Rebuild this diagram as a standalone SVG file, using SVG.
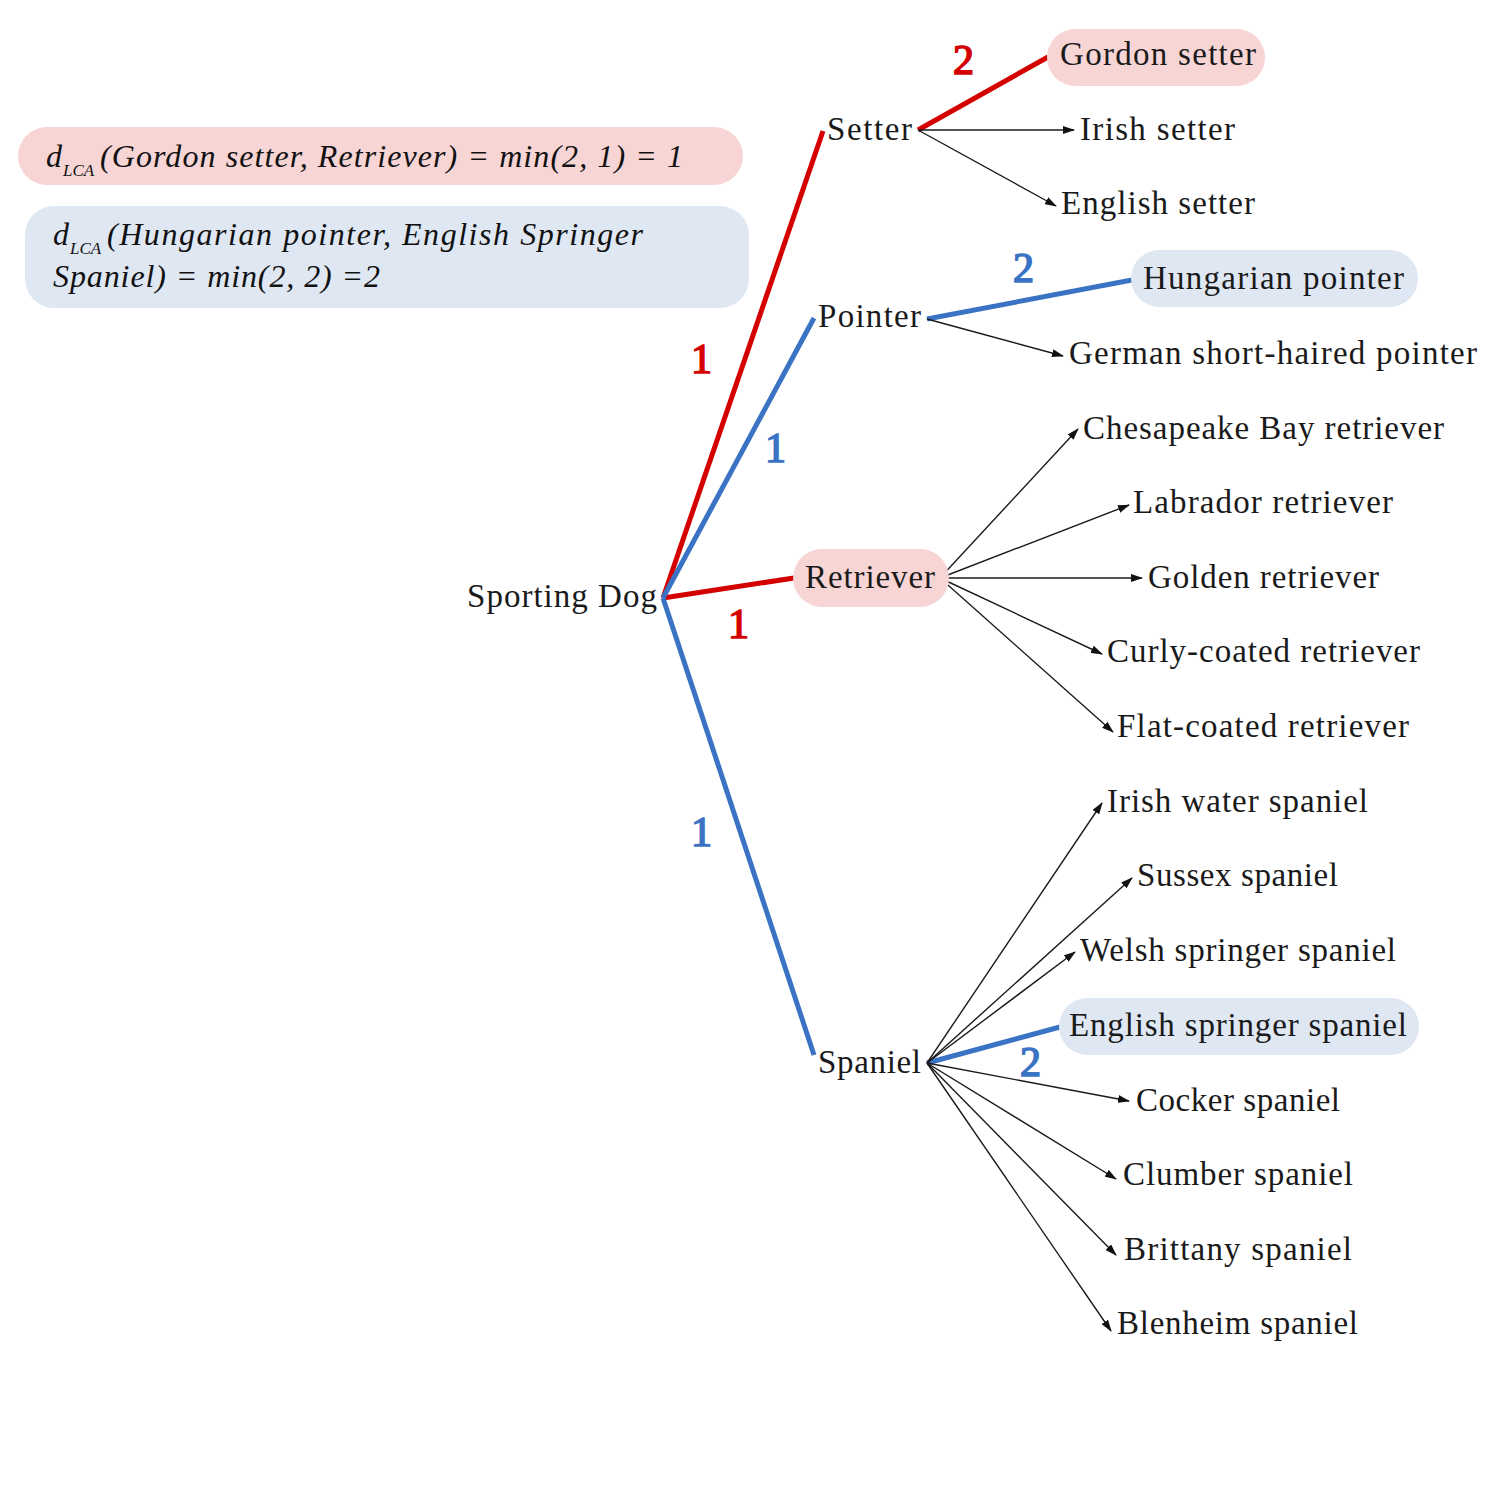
<svg xmlns="http://www.w3.org/2000/svg" width="1500" height="1500" viewBox="0 0 1500 1500">
<style>
.lbl{font-family:"Liberation Serif","DejaVu Serif",serif;font-size:33px;fill:#1a1a1a}
.fx{font-family:"Liberation Serif","DejaVu Serif",serif;font-style:italic;font-size:32px;fill:#111}
.sub{font-family:"Liberation Serif","DejaVu Serif",serif;font-style:italic;font-size:17px;fill:#111}
.num{font-family:"Liberation Serif","DejaVu Serif",serif;font-size:42px;stroke-width:1.6}
.red{fill:#d40000;stroke:#d40000}
.blue{fill:#3b73c4;stroke:#3b73c4}
.pinkbox{fill:#f7d5d5}
.bluebox{fill:#dfe7f3}
.thin{stroke:#1a1a1a;stroke-width:1.4;fill:none;marker-end:url(#ah)}
.tr{stroke:#d40000;stroke-width:5;fill:none}
.tb{stroke:#3b73c4;stroke-width:5;fill:none}
</style>
<defs>
<marker id="ah" markerUnits="userSpaceOnUse" markerWidth="12" markerHeight="8" refX="11" refY="4" orient="auto">
<path d="M0,0 L12,4 L0,8 z" fill="#111"/>
</marker>
</defs>
<rect width="1500" height="1500" fill="#fff"/>

<g id="formula-red">
<rect class="pinkbox" x="18" y="127" width="725" height="58" rx="29"/>
<text class="fx" x="46" y="167">d</text>
<text class="sub" x="63" y="176">LCA</text>
<text class="fx" x="100" y="167" textLength="583">(Gordon setter, Retriever) = min(2, 1) = 1</text>
</g>
<g id="formula-blue">
<rect class="bluebox" x="25" y="206" width="724" height="102" rx="29"/>
<text class="fx" x="53" y="245">d</text>
<text class="sub" x="70" y="254">LCA</text>
<text class="fx" x="107" y="245" textLength="536">(Hungarian pointer, English Springer</text>
<text class="fx" x="53" y="287" textLength="327">Spaniel) = min(2, 2) =2</text>
</g>

<g id="connectors">
<line class="tr" x1="663" y1="598" x2="823" y2="131"/>
<line class="tr" x1="663" y1="598" x2="794" y2="578"/>
<line class="tr" x1="918" y1="130" x2="1048" y2="57"/>
<line class="tb" x1="663" y1="598" x2="814" y2="318"/>
<line class="tb" x1="663" y1="598" x2="814" y2="1055"/>
<line class="tb" x1="927" y1="319" x2="1132" y2="280"/>
<line class="tb" x1="927" y1="1063" x2="1060" y2="1027"/>

<line class="thin" x1="918" y1="130" x2="1074" y2="130"/>
<line class="thin" x1="918" y1="130" x2="1056" y2="206"/>
<line class="thin" x1="927" y1="319" x2="1063" y2="356"/>

<line class="thin" x1="940" y1="578" x2="1078" y2="429"/>
<line class="thin" x1="940" y1="578" x2="1129" y2="505"/>
<line class="thin" x1="940" y1="578" x2="1142" y2="578"/>
<line class="thin" x1="940" y1="578" x2="1102" y2="654"/>
<line class="thin" x1="940" y1="578" x2="1113" y2="732"/>

<line class="thin" x1="927" y1="1063" x2="1102" y2="803"/>
<line class="thin" x1="927" y1="1063" x2="1132" y2="878"/>
<line class="thin" x1="927" y1="1063" x2="1075" y2="952"/>
<line class="thin" x1="927" y1="1063" x2="1129" y2="1101"/>
<line class="thin" x1="927" y1="1063" x2="1116" y2="1179"/>
<line class="thin" x1="927" y1="1063" x2="1116" y2="1255"/>
<line class="thin" x1="927" y1="1063" x2="1111" y2="1331"/>

<text class="num red" x="691" y="373">1</text>
<text class="num blue" x="765" y="462">1</text>
<text class="num red" x="728" y="638">1</text>
<text class="num blue" x="691" y="846">1</text>
<text class="num red" x="953" y="74">2</text>
<text class="num blue" x="1013" y="282">2</text>
<text class="num blue" x="1020" y="1076">2</text>
</g>

<g id="n-sporting"><text class="lbl" x="467" y="607" textLength="190">Sporting Dog</text></g>
<g id="n-setter"><text class="lbl" x="827" y="140" textLength="85">Setter</text></g>
<g id="n-pointer"><text class="lbl" x="818" y="327" textLength="103">Pointer</text></g>
<g id="n-retriever"><rect class="pinkbox" x="793" y="549" width="156" height="58" rx="29"/><text class="lbl" x="805" y="588" textLength="130">Retriever</text></g>
<g id="n-spaniel"><text class="lbl" x="818" y="1073" textLength="103">Spaniel</text></g>

<g id="n-gordon"><rect class="pinkbox" x="1047" y="29" width="218" height="57" rx="28.5"/><text class="lbl" x="1060" y="65" textLength="196">Gordon setter</text></g>
<g id="n-irish-setter"><text class="lbl" x="1080" y="140" textLength="155">Irish setter</text></g>
<g id="n-english-setter"><text class="lbl" x="1061" y="214" textLength="194">English setter</text></g>

<g id="n-hungarian"><rect class="bluebox" x="1131" y="250" width="287" height="57" rx="28.5"/><text class="lbl" x="1143" y="289" textLength="261">Hungarian pointer</text></g>
<g id="n-german"><text class="lbl" x="1069" y="364" textLength="408">German short-haired pointer</text></g>

<g id="n-chesapeake"><text class="lbl" x="1083" y="439" textLength="361">Chesapeake Bay retriever</text></g>
<g id="n-labrador"><text class="lbl" x="1133" y="513" textLength="260">Labrador retriever</text></g>
<g id="n-golden"><text class="lbl" x="1148" y="588" textLength="231">Golden retriever</text></g>
<g id="n-curly"><text class="lbl" x="1107" y="662" textLength="313">Curly-coated retriever</text></g>
<g id="n-flat"><text class="lbl" x="1117" y="737" textLength="292">Flat-coated retriever</text></g>

<g id="n-irish-water"><text class="lbl" x="1107" y="812" textLength="261">Irish water spaniel</text></g>
<g id="n-sussex"><text class="lbl" x="1137" y="886" textLength="201">Sussex spaniel</text></g>
<g id="n-welsh"><text class="lbl" x="1080" y="961" textLength="316">Welsh springer spaniel</text></g>
<g id="n-english-springer"><rect class="bluebox" x="1059" y="998" width="360" height="57" rx="28.5"/><text class="lbl" x="1069" y="1036" textLength="338">English springer spaniel</text></g>
<g id="n-cocker"><text class="lbl" x="1136" y="1111" textLength="204">Cocker spaniel</text></g>
<g id="n-clumber"><text class="lbl" x="1123" y="1185" textLength="230">Clumber spaniel</text></g>
<g id="n-brittany"><text class="lbl" x="1124" y="1260" textLength="228">Brittany spaniel</text></g>
<g id="n-blenheim"><text class="lbl" x="1117" y="1334" textLength="241">Blenheim spaniel</text></g>
</svg>
